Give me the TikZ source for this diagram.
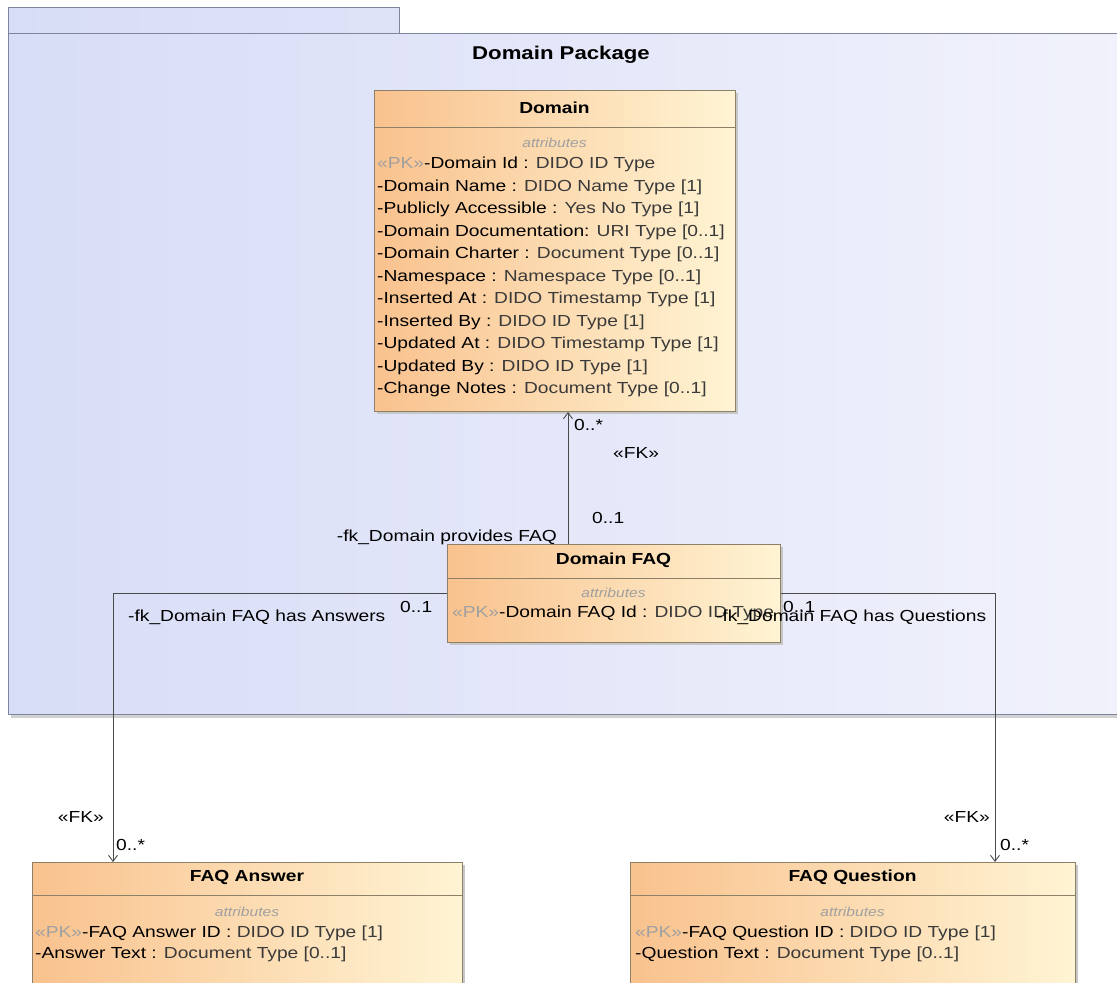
\documentclass[tikz,border=0pt]{standalone}
\usepackage{fontspec}
\setmainfont[FakeStretch=1.2]{Liberation Sans}
\usetikzlibrary{arrows.meta,calc}

\definecolor{pkgL}{HTML}{D8DDF7}
\definecolor{pkgR}{HTML}{F1F2FB}
\definecolor{pkgB}{HTML}{7E859C}
\definecolor{clsL}{HTML}{F9C28E}
\definecolor{clsR}{HTML}{FFF4D4}
\definecolor{clsB}{HTML}{8C8069}
\definecolor{lineC}{HTML}{4A4A4A}
\definecolor{pkC}{HTML}{A0A0A0}
\definecolor{typeC}{HTML}{3A3A3A}

\newcommand{\stp}{{\color{pkC}«PK»}}
\newcommand{\tp}[1]{{\color{typeC}#1}}

\begin{document}
\begin{tikzpicture}[x=1pt,y=-1pt,
 txt/.style={font=\fontsize{16}{19}\selectfont, inner sep=0pt, text=black},
 ttl/.style={inner sep=0pt, font=\fontsize{16}{19}\selectfont\bfseries},
 pkgttl/.style={inner sep=0pt, font=\fontsize{18.5}{22}\selectfont\bfseries},
 attrlbl/.style={inner sep=0pt, font=\fontsize{13}{15}\selectfont\itshape, text=pkC},
 row/.style={txt, anchor=base west},
 cls/.style={draw=clsB, line width=1pt, left color=clsL, right color=clsR, anchor=north west, inner sep=0pt},
 sep/.style={draw=clsB, line width=1pt},
 shd/.style={fill=black!22},
 assoc/.style={draw=lineC, line width=0.9pt},
 nav/.style={assoc, -{Straight Barb[length=6pt,width=9pt,line width=0.9pt]}},
 lblw/.style={txt, anchor=west},
 lble/.style={txt, anchor=east},
]
\useasboundingbox (0,0) rectangle (1117,983);

% ---------- package ----------
\fill[black!18] (11,37) rectangle (1125,718);
\path[draw=pkgB, line width=1pt, left color=pkgL, right color=pkgL!70!pkgR] (8,7) rectangle (399,33);
\node[draw=pkgB, line width=1pt, left color=pkgL, right color=pkgR, anchor=north west, inner sep=0pt,
      minimum width=1120pt, minimum height=681pt] (pkg) at (8,33) {};
\node[pkgttl] (pkgT) at (561,55) {Domain Package};

% ---------- Domain ----------
\fill[shd] (377,93) rectangle (738,414);
\node[cls, minimum width=361pt, minimum height=321pt] (dom) at (374,90) {};
\draw[sep] ($(dom.north west)+(0,37)$) -- ($(dom.north east)+(0,37)$);
\node[ttl] (domT) at (554.5,108) {Domain};
\node[attrlbl] (domA) at (554.5,143) {attributes};
\node[row] (d1)  at (377,168.5) {\stp-Domain Id : \tp{DIDO ID Type}};
\node[row] (d2)  at (377,191)   {-Domain Name : \tp{DIDO Name Type [1]}};
\node[row] (d3)  at (377,213.5) {-Publicly Accessible : \tp{Yes No Type [1]}};
\node[row] (d4)  at (377,236)   {-Domain Documentation: \tp{URI Type [0..1]}};
\node[row] (d5)  at (377,258.5) {-Domain Charter : \tp{Document Type [0..1]}};
\node[row] (d6)  at (377,281)   {-Namespace : \tp{Namespace Type [0..1]}};
\node[row] (d7)  at (377,303.5) {-Inserted At : \tp{DIDO Timestamp Type [1]}};
\node[row] (d8)  at (377,326)   {-Inserted By : \tp{DIDO ID Type [1]}};
\node[row] (d9)  at (377,348.5) {-Updated At : \tp{DIDO Timestamp Type [1]}};
\node[row] (d10) at (377,371)   {-Updated By : \tp{DIDO ID Type [1]}};
\node[row] (d11) at (377,393.5) {-Change Notes : \tp{Document Type [0..1]}};

% ---------- Domain FAQ ----------
\fill[shd] (450,547) rectangle (783,645);
\node[cls, minimum width=333pt, minimum height=98pt] (faq) at (447,544) {};
\draw[sep] ($(faq.north west)+(0,34)$) -- ($(faq.north east)+(0,34)$);
\node[ttl] (faqT) at (613.5,560) {Domain FAQ};
\node[attrlbl] (faqA) at (613.5,593) {attributes};
\node[row] (f1) at (452,617.5) {\stp-Domain FAQ Id : \tp{DIDO ID Type}};

% ---------- FAQ Answer ----------
\fill[shd] (35,865) rectangle (465,995);
\node[cls, minimum width=430pt, minimum height=130pt] (ans) at (32,862) {};
\draw[sep] ($(ans.north west)+(0,33)$) -- ($(ans.north east)+(0,33)$);
\node[ttl] (ansT) at (247,877) {FAQ Answer};
\node[attrlbl] (ansA) at (247,912) {attributes};
\node[row] (a1) at (35,937.5) {\stp-FAQ Answer ID : \tp{DIDO ID Type [1]}};
\node[row] (a2) at (35,958.5) {-Answer Text : \tp{Document Type [0..1]}};

% ---------- FAQ Question ----------
\fill[shd] (633,865) rectangle (1078,995);
\node[cls, minimum width=445pt, minimum height=130pt] (que) at (630,862) {};
\draw[sep] ($(que.north west)+(0,33)$) -- ($(que.north east)+(0,33)$);
\node[ttl] (queT) at (852.5,877) {FAQ Question};
\node[attrlbl] (queA) at (852.5,912) {attributes};
\node[row] (q1) at (635,937.5) {\stp-FAQ Question ID : \tp{DIDO ID Type [1]}};
\node[row] (q2) at (635,958.5) {-Question Text : \tp{Document Type [0..1]}};

% ---------- connectors ----------
\draw[nav] ([xshift=121pt]faq.north west) -- ([xshift=121pt]faq.north west |- dom.south);
\draw[nav] (faq.west) -| ([xshift=81pt]ans.north west);
\draw[nav] (faq.east) -| ([xshift=365pt]que.north west);

% ---------- labels ----------
\node[lblw] (m1) at (574,425) {0..*};
\node[lblw] (s1) at (613,453) {«FK»};
\node[lblw] (m2) at (592,518) {0..1};
\node[lble] (r1) at (557,537) {-fk\_Domain provides FAQ};

\node[lblw] (r2) at (128,617) {-fk\_Domain FAQ has Answers};
\node[lblw] (m3) at (400,607) {0..1};
\node[lble] (s2) at (104,817) {«FK»};
\node[lblw] (m4) at (116,845) {0..*};

\node[lblw] (r3) at (716,617) {-fk\_Domain FAQ has Questions};
\node[lblw] (m5) at (783,607) {0..1};
\node[lble] (s3) at (990,817) {«FK»};
\node[lblw] (m6) at (1000,845) {0..*};
\end{tikzpicture}
\end{document}
